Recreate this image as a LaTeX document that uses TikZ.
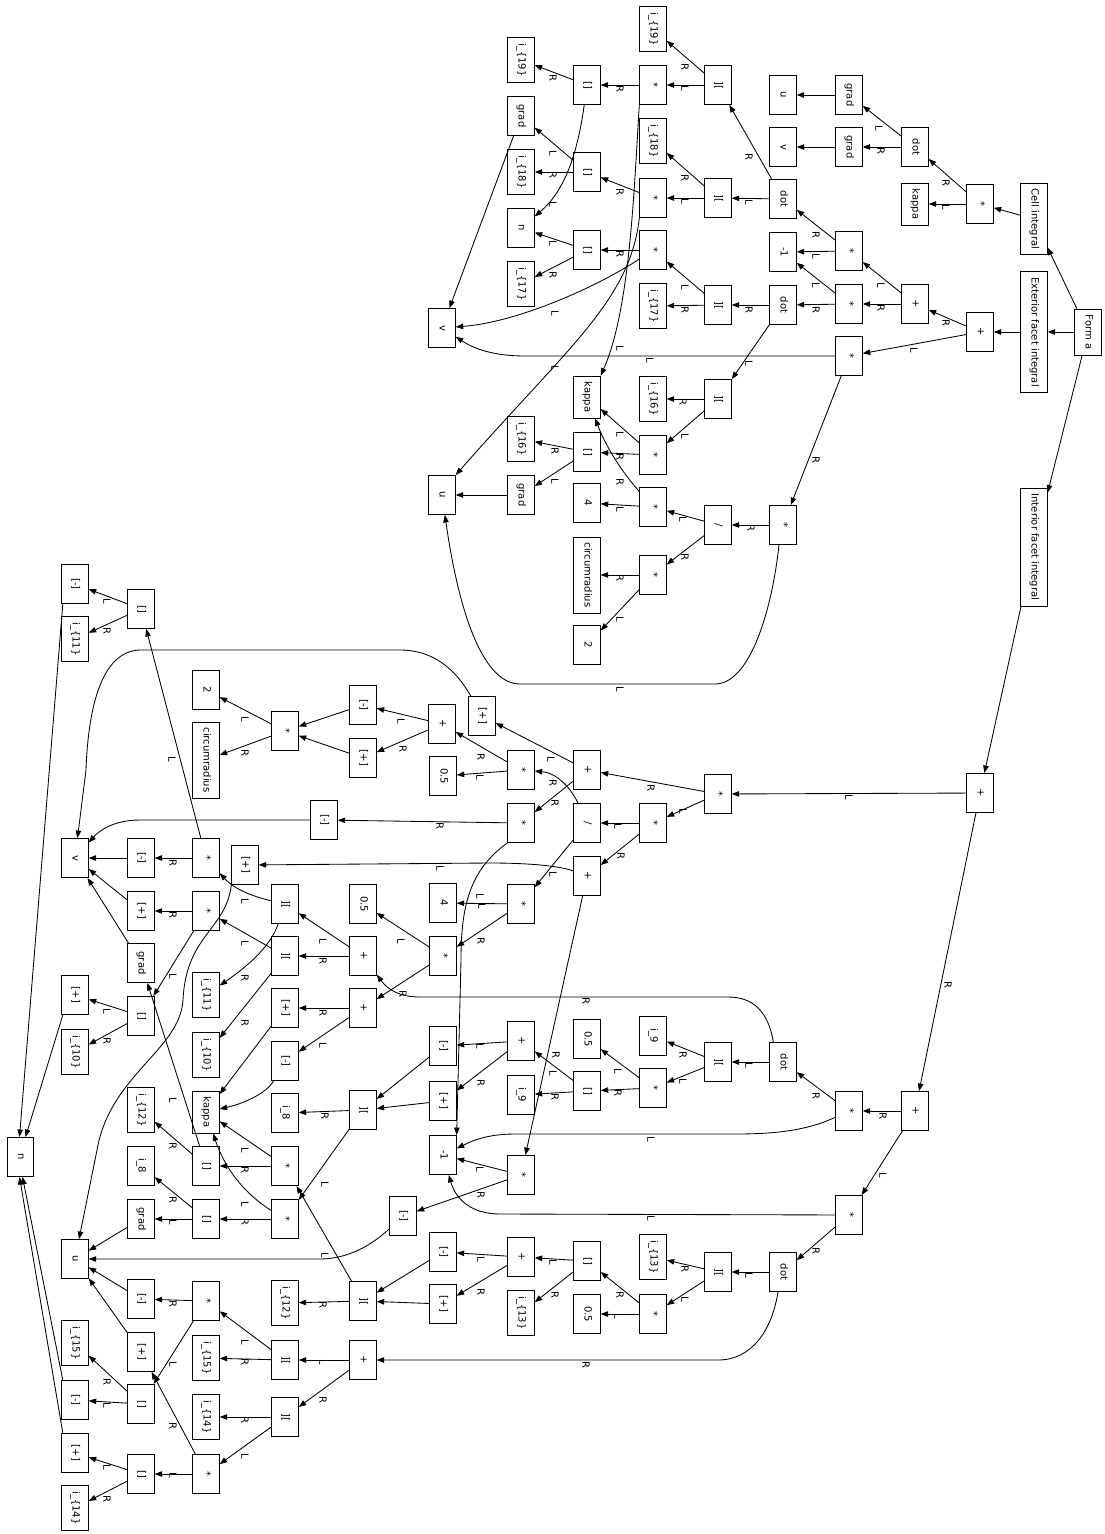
\documentclass[tikz,border=0pt]{standalone}
\usepackage{graphicx}
\usepackage{fontspec}
\setmainfont{DejaVu Sans}
\usetikzlibrary{arrows.meta}
\newcommand{\rtx}[1]{\rotatebox{-90}{#1}}
\newcommand{\mkn}[4]{\node[bx] (#1) at (#2,#3) {\rtx{\strut #4}};}
\newcommand{\lL}{\rtx{L}}
\newcommand{\lR}{\rtx{R}}
\begin{document}
\begin{tikzpicture}[x=1pt,y=-1pt,
  bx/.style={draw, rectangle, line width=0.85pt, minimum width=26.5pt, minimum height=39pt, inner xsep=1pt, inner ysep=5.7pt, font=\fontsize{10}{12}\selectfont},
  e/.style={-{Triangle[length=7.5pt,width=5.5pt]}, line width=0.85pt},
  lab/.style={inner sep=0pt, font=\fontsize{10}{12}\selectfont}]
\useasboundingbox (0,0) rectangle (1105,1534);
\fill[white] (0,0) rectangle (1105,1534);
% ---------- top nodes
\mkn{forma}{1088}{332}{Form a}
\mkn{cell}{1034}{219}{Cell integral}
\mkn{ext}{1034}{332}{Exterior facet integral}
\mkn{int}{1034}{547}{Interior facet integral}
\mkn{cm1}{980}{204}{*}
\mkn{ep1}{980}{332}{+}
\mkn{ckap}{915}{204}{kappa}
\mkn{cdot}{915}{147}{dot}
\mkn{ep2}{915}{304}{+}
\mkn{cgradu}{849}{95}{grad}
\mkn{cgradv}{849}{147}{grad}
\mkn{em1}{849}{251}{*}
\mkn{em2}{849}{304}{*}
\mkn{em3}{849}{356}{*}
\mkn{cu}{783}{95}{u}
\mkn{cv}{783}{147}{v}
\mkn{edot1}{783}{199}{dot}
\mkn{emone}{783}{252}{-1}
\mkn{edot2}{783}{305}{dot}
\mkn{em4}{783}{525}{*}
\mkn{ect1}{718}{85}{][}
\mkn{ect2}{718}{198}{][}
\mkn{ect3}{718}{305}{][}
\mkn{ect4}{718}{399}{][}
\mkn{ediv}{718}{525}{/}
\mkn{ei19}{653}{29}{i\_\{19\}}
\mkn{em5}{653}{85}{*}
\mkn{ei18}{653}{141}{i\_\{18\}}
\mkn{em6}{653}{198}{*}
\mkn{em7}{653}{250}{*}
\mkn{ei17}{653}{306}{i\_\{17\}}
\mkn{ei16}{653}{399}{i\_\{16\}}
\mkn{em8}{653}{455}{*}
\mkn{em9}{653}{507}{*}
\mkn{em10}{653}{575}{*}
\mkn{eix1}{587}{85}{[]}
\mkn{eix2}{587}{172}{[]}
\mkn{eix3}{587}{250}{[]}
\mkn{ekap}{587}{397}{kappa}
\mkn{eix4}{587}{452}{[]}
\mkn{efour}{587}{503}{4}
\mkn{ecirc}{587}{575}{circumradius}
\mkn{etwo}{587}{645}{2}
\mkn{ei19b}{521}{60}{i\_\{19\}}
\mkn{egradv}{521}{116}{grad}
\mkn{ei18b}{521}{172}{i\_\{18\}}
\mkn{en}{521}{228}{n}
\mkn{ei17b}{521}{284}{i\_\{17\}}
\mkn{ei16b}{521}{439}{i\_\{16\}}
\mkn{egradu}{521}{495}{grad}
\mkn{ev}{442}{328}{v}
\mkn{eu}{442}{495}{u}
% ---------- lower nodes
\mkn{ip1}{980}{793}{+}
\mkn{im1}{718}{794}{*}
\mkn{ip2}{915}{1111}{+}
\mkn{im2}{849}{1111}{*}
\mkn{im3}{849}{1215}{*}
\mkn{idot1}{783}{1062}{dot}
\mkn{idot2}{783}{1272}{dot}
\mkn{ict1}{718}{1062}{][}
\mkn{ict2}{718}{1272}{][}
\mkn{ii9a}{653}{1036}{i\_9}
\mkn{im4}{653}{1088}{*}
\mkn{ii13a}{653}{1257}{i\_\{13\}}
\mkn{im5}{653}{1314}{*}
\mkn{im6}{653}{823}{*}
\mkn{ip3}{587}{770}{+}
\mkn{idiv}{587}{823}{/}
\mkn{ip4}{587}{876}{+}
\mkn{ihalf1}{587}{1039}{0.5}
\mkn{iix1}{587}{1091}{[]}
\mkn{iix2}{587}{1261}{[]}
\mkn{ihalf2}{587}{1314}{0.5}
\mkn{im7}{521}{770}{*}
\mkn{im8}{521}{823}{*}
\mkn{im9}{521}{904}{*}
\mkn{ip5}{521}{1041}{+}
\mkn{ii9b}{521}{1095}{i\_9}
\mkn{im10}{521}{1175}{*}
\mkn{ip6}{521}{1257}{+}
\mkn{ii13b}{521}{1313}{i\_\{13\}}
\mkn{ipl1}{482}{716}{[+]}
\mkn{ip7}{442}{724}{+}
\mkn{ihalf3}{443}{776}{0.5}
\mkn{ifour}{443}{903}{4}
\mkn{im11}{443}{956}{*}
\mkn{imi1}{443}{1046}{[-]}
\mkn{ipl2}{443}{1101}{[+]}
\mkn{ineg}{443}{1155}{-1}
\mkn{imi2}{443}{1252}{[-]}
\mkn{ipl3}{443}{1304}{[+]}
\mkn{imi3}{403}{1216}{[-]}
\mkn{imi4}{363}{705}{[-]}
\mkn{ipl4}{363}{758}{[+]}
\mkn{ihalf4}{363}{904}{0.5}
\mkn{ip8}{363}{956}{+}
\mkn{ip9}{363}{1008}{+}
\mkn{ict3}{363}{1110}{][}
\mkn{ict4}{363}{1301}{][}
\mkn{ip10}{363}{1360}{+}
\mkn{imi5}{324}{820}{[-]}
\mkn{im12}{285}{731}{*}
\mkn{ict5}{285}{904}{][}
\mkn{ict6}{285}{956}{][}
\mkn{ipl5}{285}{1008}{[+]}
\mkn{imi6}{285}{1061}{[-]}
\mkn{ii8a}{285}{1113}{i\_8}
\mkn{im13}{285}{1166}{*}
\mkn{im14}{285}{1219}{*}
\mkn{ii12a}{285}{1303}{i\_\{12\}}
\mkn{ict7}{285}{1360}{][}
\mkn{ict8}{285}{1417}{][}
\mkn{ipl6}{245}{865}{[+]}
\mkn{itwo}{206}{690}{2}
\mkn{icirc}{206}{760}{circumradius}
\mkn{im15}{206}{858}{*}
\mkn{im16}{206}{911}{*}
\mkn{ii11a}{206}{995}{i\_\{11\}}
\mkn{ii10a}{206}{1055}{i\_\{10\}}
\mkn{ikap}{206}{1112}{kappa}
\mkn{iix3}{206}{1166}{[]}
\mkn{iix4}{206}{1219}{[]}
\mkn{im17}{206}{1301}{*}
\mkn{ii15a}{206}{1358}{i\_\{15\}}
\mkn{ii14a}{206}{1417}{i\_\{14\}}
\mkn{im18}{206}{1474}{*}
\mkn{iix5}{141}{609}{[]}
\mkn{imi7}{141}{858}{[-]}
\mkn{ipl7}{141}{911}{[+]}
\mkn{igradv}{141}{963}{grad}
\mkn{iix6}{141}{1016}{[]}
\mkn{ii12b}{141}{1110}{i\_\{12\}}
\mkn{ii8b}{141}{1166}{i\_8}
\mkn{igradu}{141}{1219}{grad}
\mkn{imi8}{141}{1299}{[-]}
\mkn{ipl8}{141}{1352}{[+]}
\mkn{iix7}{141}{1404}{[]}
\mkn{iix8}{141}{1474}{[]}
\mkn{imi9}{75}{584}{[-]}
\mkn{ii11b}{75}{639}{i\_\{11\}}
\mkn{iv}{75}{858}{v}
\mkn{ipl9}{75}{995}{[+]}
\mkn{ii10b}{75}{1052}{i\_\{10\}}
\mkn{iu}{75}{1259}{u}
\mkn{ii15b}{75}{1343}{i\_\{15\}}
\mkn{imi10}{75}{1400}{[-]}
\mkn{ipl10}{75}{1453}{[+]}
\mkn{ii14b}{75}{1508}{i\_\{14\}}
\mkn{inn}{20.5}{1157}{n}
% ---------- top edges
\draw[e] (forma) -- (cell);
\draw[e] (forma) -- (ext);
\draw[e] (forma) -- (int);
\draw[e] (cell) -- (cm1);
\draw[e] (ext) -- (ep1);
\draw[e] (cm1) -- (ckap) node[lab] at (946,207) {\lL};
\draw[e] (cm1) -- (cdot) node[lab] at (946,183) {\lR};
\draw[e] (cdot) -- (cgradu) node[lab] at (879,128) {\lL};
\draw[e] (cdot) -- (cgradv) node[lab] at (881,151) {\lR};
\draw[e] (cgradu) -- (cu);
\draw[e] (cgradv) -- (cv);
\draw[e] (ep1) -- (ep2) node[lab] at (946,323) {\lR};
\draw[e] (ep1) -- (em3) node[lab] at (914,350) {\lL};
\draw[e] (ep2) -- (em1) node[lab] at (881,285) {\lL};
\draw[e] (ep2) -- (em2) node[lab] at (881,308) {\lR};
\draw[e] (em1) -- (emone) node[lab] at (816,256) {\lL};
\draw[e] (em1) -- (edot1) node[lab] at (816,235) {\lR};
\draw[e] (em2) -- (emone) node[lab] at (816,285) {\lL};
\draw[e] (em2) -- (edot2) node[lab] at (816,310) {\lR};
\draw[e] (em3) -- (525,356) .. controls (488,356) and (470,346) .. (ev) node[lab] at (650,360) {\lL};
\draw[e] (em3) -- (em4) node[lab] at (816,460) {\lR};
\draw[e] (edot1) -- (ect2) node[lab] at (749,202) {\lL};
\draw[e] (edot1) -- (ect1) node[lab] at (749,157) {\lR};
\draw[e] (edot2) -- (ect3) node[lab] at (749,310) {\lR};
\draw[e] (edot2) -- (ect4) node[lab] at (749,363) {\lL};
\draw[e] (em4) -- (ediv) node[lab] at (751,528) {\lR};
\draw[e] ([xshift=-4pt]em4.south) .. controls (772,610) and (750,684) .. (715,684) -- (520,684) .. controls (485,684) and (460,620) .. (eu) node[lab] at (620,689) {\lL};
\draw[e] (ect1) -- (ei19) node[lab] at (685,67) {\lR};
\draw[e] (ect1) -- (em5) node[lab] at (685,88) {\lL};
\draw[e] (ect2) -- (ei18) node[lab] at (685,178) {\lR};
\draw[e] (ect2) -- (em6) node[lab] at (685,201) {\lL};
\draw[e] (ect3) -- (em7) node[lab] at (685,287) {\lL};
\draw[e] (ect3) -- (ei17) node[lab] at (685,310) {\lR};
\draw[e] (ect4) -- (ei16) node[lab] at (683,402) {\lR};
\draw[e] (ect4) -- (em8) node[lab] at (685,436) {\lL};
\draw[e] (ediv) -- (em9) node[lab] at (683,519) {\lL};
\draw[e] (ediv) -- (em10) node[lab] at (685,557) {\lR};
\draw[e] (em5) -- (eix1) node[lab] at (620,89) {\lR};
\draw[e] (em5.south west) .. controls (634,190) and (630,310) .. (ekap.north east) node[lab] at (620,348) {\lL};
\draw[e] (em6) -- (eix2) node[lab] at (620,192) {\lR};
\draw[e] (em6.south west) .. controls (630,300) and (570,345) .. (eu.north east) node[lab] at (555,368) {\lL};
\draw[e] (em7) -- (eix3) node[lab] at (620,254) {\lR};
\draw[e] (em7) .. controls (600,285) and (520,322) .. (ev) node[lab] at (555,313) {\lL};
\draw[e] (em8) -- (ekap) node[lab] at (620,434) {\lL};
\draw[e] (em8) -- (eix4) node[lab] at (620,457) {\lR};
\draw[e] (em9) .. controls (622,472) and (606,447) .. (ekap) node[lab] at (620,482) {\lR};
\draw[e] (em9) -- (efour) node[lab] at (620,509) {\lL};
\draw[e] (em10) -- (ecirc) node[lab] at (620,578) {\lR};
\draw[e] (em10) -- (etwo) node[lab] at (620,619) {\lL};
\draw[e] (eix1) -- (ei19b) node[lab] at (553,78) {\lR};
\draw[e] (eix1) .. controls (578,150) and (566,190) .. (en) node[lab] at (553,204) {\lL};
\draw[e] (eix2) -- (egradv) node[lab] at (553,153) {\lL};
\draw[e] (eix2) -- (ei18b) node[lab] at (553,175) {\lR};
\draw[e] (eix3) -- (en) node[lab] at (553,243) {\lL};
\draw[e] (eix3) -- (ei17b) node[lab] at (553,275) {\lR};
\draw[e] (eix4) -- (ei16b) node[lab] at (555,451) {\lR};
\draw[e] (eix4) -- (egradu) node[lab] at (555,481) {\lL};
\draw[e] (egradv) -- (ev);
\draw[e] (egradu) -- (eu);
% ---------- lower edges
\draw[e] (int) -- (ip1);
\draw[e] (ip1) -- (im1) node[lab] at (849,797) {\lL};
\draw[e] (ip1) -- (ip2) node[lab] at (948,985) {\lR};
\draw[e] (ip2) -- (im2) node[lab] at (883,1116) {\lR};
\draw[e] (ip2) -- (im3) node[lab] at (883,1175) {\lL};
\draw[e] (im2) .. controls (812,1128) and (785,1134) .. (736,1134) -- (515,1134) .. controls (485,1134) and (470,1142) .. (ineg) node[lab] at (651,1139) {\lL};
\draw[e] (im2) -- (idot1) node[lab] at (816,1096) {\lR};
\draw[e] (im3) -- (500,1214) .. controls (472,1214) and (456,1200) .. (ineg) node[lab] at (651,1218) {\lL};
\draw[e] (im3) -- (idot2) node[lab] at (816,1251) {\lR};
\draw[e] (idot1) -- (ict1) node[lab] at (749,1065) {\lL};
\draw[e] ([xshift=4pt]idot1.north west) .. controls (768,1010) and (752,997) .. (728,997) -- (420,997) .. controls (400,997) and (388,990) .. (ip8) node[lab] at (586,1001) {\lR};
\draw[e] (idot2) -- (ict2) node[lab] at (749,1275) {\lL};
\draw[e] ([xshift=-5pt]idot2.south) .. controls (772,1330) and (752,1360) .. (718,1360) -- (ip10) node[lab] at (586,1365) {\lR};
\draw[e] (ict1) -- (ii9a) node[lab] at (683,1055) {\lR};
\draw[e] (ict1) -- (im4) node[lab] at (683,1081) {\lL};
\draw[e] (ict2) -- (ii13a) node[lab] at (685,1269) {\lR};
\draw[e] (ict2) -- (im5) node[lab] at (685,1299) {\lL};
\draw[e] (im4) -- (ihalf1) node[lab] at (618,1071) {\lL};
\draw[e] (im4) -- (iix1) node[lab] at (618,1093) {\lR};
\draw[e] (im5) -- (iix2) node[lab] at (620,1295) {\lR};
\draw[e] (im5) -- (ihalf2) node[lab] at (618,1316) {\lL};
\draw[e] (iix1) -- (ip5) node[lab] at (553,1073) {\lL};
\draw[e] (iix1) -- (ii9b) node[lab] at (555,1097) {\lR};
\draw[e] (iix2) -- (ip6) node[lab] at (553,1262) {\lL};
\draw[e] (iix2) -- (ii13b) node[lab] at (555,1295) {\lR};
\draw[e] (ip5) -- (imi1) node[lab] at (480,1046) {\lL};
\draw[e] (ip5) -- (ipl2) node[lab] at (481,1083) {\lR};
\draw[e] (ip6) -- (imi2) node[lab] at (481,1259) {\lL};
\draw[e] (ip6) -- (ipl3) node[lab] at (481,1292) {\lR};
\draw[e] (imi1) -- (ict3);
\draw[e] (ipl2) -- (ict3);
\draw[e] (imi2) -- (ict4);
\draw[e] (ipl3) -- (ict4);
\draw[e] (im1) -- (im6) node[lab] at (683,811) {\lL};
\draw[e] (im1) -- (ip3) node[lab] at (651,788) {\lR};
\draw[e] (im6) -- (idiv) node[lab] at (618,826) {\lL};
\draw[e] (im6) -- (ip4) node[lab] at (621,856) {\lR};
\draw[e] (ip3) -- (ipl1) node[lab] at (551,759) {\lL};
\draw[e] (ip3) -- (im8) node[lab] at (555,803) {\lR};
\draw[e] (idiv) -- (im9) node[lab] at (553,874) {\lL};
\draw[e] (idiv) .. controls (572,790) and (558,773) .. (im7) node[lab] at (553,783) {\lR};
\draw[e] (ip4) .. controls (560,866) and (530,863) .. (490,863) -- (ipl6) node[lab] at (440,868) {\lL};
\draw[e] (ip4) -- (im10) node[lab] at (556,1055) {\lR};
\draw[e] (im7) -- (ihalf3) node[lab] at (480,777) {\lL};
\draw[e] (im7) -- (ip7) node[lab] at (481,757) {\lR};
\draw[e] (im8) -- (imi5) node[lab] at (440,826) {\lR};
\draw[e] (im8.south west) .. controls (470,870) and (461,905) .. (461,960) -- (ineg.north east) node[lab] at (480,896) {\lL};
\draw[e] (im9) -- (ifour) node[lab] at (482,906) {\lL};
\draw[e] (im9) -- (im11) node[lab] at (481,941) {\lR};
\draw[e] (im10) -- (ineg) node[lab] at (480,1169) {\lL};
\draw[e] (im10) -- (imi3) node[lab] at (481,1195) {\lR};
\draw[e] (ipl1) .. controls (455,668) and (432,650) .. (400,650) -- (140,650) .. controls (100,651) and (88,712) .. (86,770) -- (iv);
\draw[e] (ip7) -- (imi4) node[lab] at (401,721) {\lL};
\draw[e] (ip7) -- (ipl4) node[lab] at (403,749) {\lR};
\draw[e] (im11) -- (ihalf4) node[lab] at (401,941) {\lL};
\draw[e] (im11) -- (ip9) node[lab] at (403,994) {\lR};
\draw[e] (imi3) .. controls (372,1245) and (348,1259) .. (320,1259) -- (iu);
\draw[e] (imi4) -- (im12);
\draw[e] (ipl4) -- (im12);
\draw[e] (ip8) -- (ict5) node[lab] at (323,941) {\lL};
\draw[e] (ip8) -- (ict6) node[lab] at (323,961) {\lR};
\draw[e] (ip9) -- (ipl5) node[lab] at (323,1013) {\lR};
\draw[e] (ip9) -- (imi6) node[lab] at (323,1045) {\lL};
\draw[e] (ict3) -- (ii8a) node[lab] at (325,1116) {\lR};
\draw[e] (ict3) -- (im14) node[lab] at (325,1184) {\lL};
\draw[e] (ict4) -- (im13) node[lab] at (325,1255) {\lL};
\draw[e] (ict4) -- (ii12a) node[lab] at (323,1305) {\lR};
\draw[e] (ip10) -- (ict7) node[lab] at (323,1362) {\lL};
\draw[e] (ip10) -- (ict8) node[lab] at (323,1400) {\lR};
\draw[e] (imi5) -- (140,820) .. controls (112,820) and (98,832) .. (iv);
\draw[e] (im12) -- (itwo) node[lab] at (245,719) {\lL};
\draw[e] (im12) -- (icirc) node[lab] at (245,753) {\lR};
\draw[e] (ict5) .. controls (255,897) and (235,890) .. (im15) node[lab] at (245,901) {\lL};
\draw[e] (ict5) .. controls (270,948) and (245,968) .. (ii11a) node[lab] at (245,978) {\lR};
\draw[e] (ict6) -- (im16) node[lab] at (245,943) {\lL};
\draw[e] (ict6) -- (ii10a) node[lab] at (245,1023) {\lR};
\draw[e] (ipl5) -- (ikap);
\draw[e] (imi6) .. controls (266,1094) and (242,1104) .. (ikap);
\draw[e] (im13) -- (ikap) node[lab] at (245,1150) {\lL};
\draw[e] (im13) -- (iix3) node[lab] at (245,1170) {\lR};
\draw[e] (im14) .. controls (248,1196) and (226,1172) .. (ikap) node[lab] at (245,1204) {\lL};
\draw[e] (im14) -- (iix4) node[lab] at (245,1222) {\lR};
\draw[e] (ict7) -- (im17) node[lab] at (245,1342) {\lL};
\draw[e] (ict7) -- (ii15a) node[lab] at (245,1362) {\lR};
\draw[e] (ict8) -- (ii14a) node[lab] at (245,1420) {\lR};
\draw[e] (ict8) -- (im18) node[lab] at (245,1456) {\lL};
\draw[e] (ipl6.south west) .. controls (226,930) and (186,935) .. (183,1000) .. controls (180,1050) and (110,1075) .. (97,1150) -- (iu);
\draw[e] (im15) -- (iix5) node[lab] at (172,759) {\lL};
\draw[e] (im15) -- (imi7) node[lab] at (173,863) {\lR};
\draw[e] (im16) -- (ipl7) node[lab] at (173,915) {\lR};
\draw[e] (im16) -- (iix6) node[lab] at (173,976) {\lL};
\draw[e] (iix3) -- (igradv) node[lab] at (173,1100) {\lL};
\draw[e] (iix3) -- (ii12b) node[lab] at (173,1146) {\lR};
\draw[e] (iix4) -- (ii8b) node[lab] at (173,1200) {\lR};
\draw[e] (iix4) -- (igradu) node[lab] at (173,1222) {\lL};
\draw[e] (im17) -- (imi8) node[lab] at (173,1304) {\lR};
\draw[e] (im17) -- (iix7) node[lab] at (173,1364) {\lL};
\draw[e] (im18) -- (ipl8) node[lab] at (173,1426) {\lR};
\draw[e] (im18) -- (iix8) node[lab] at (173,1475) {\lL};
\draw[e] (iix5) -- (imi9) node[lab] at (107,601) {\lL};
\draw[e] (iix5) -- (ii11b) node[lab] at (107,631) {\lR};
\draw[e] (imi7) -- (iv);
\draw[e] (ipl7) -- (iv);
\draw[e] (igradv) -- (iv);
\draw[e] (iix6) -- (ipl9) node[lab] at (107,1011) {\lL};
\draw[e] (iix6) -- (ii10b) node[lab] at (107,1041) {\lR};
\draw[e] (igradu) -- (iu);
\draw[e] (imi8) -- (iu);
\draw[e] (ipl8) -- (iu);
\draw[e] (iix7) -- (ii15b) node[lab] at (107,1382) {\lR};
\draw[e] (iix7) -- (imi10) node[lab] at (107,1405) {\lL};
\draw[e] (iix8) -- (ipl10) node[lab] at (107,1467) {\lL};
\draw[e] (iix8) -- (ii14b) node[lab] at (107,1499) {\lR};
\draw[e] ([xshift=1.5pt]imi9.south west) -- ([xshift=-1pt]inn.north);
\draw[e] ([xshift=1.5pt]ipl9.south west) -- ([xshift=5pt]inn.north);
\draw[e] ([xshift=1.5pt]imi10.north west) -- ([xshift=2pt]inn.south);
\draw[e] ([xshift=1.5pt]ipl10.north west) -- ([xshift=-1pt]inn.south);
\end{tikzpicture}
\end{document}
